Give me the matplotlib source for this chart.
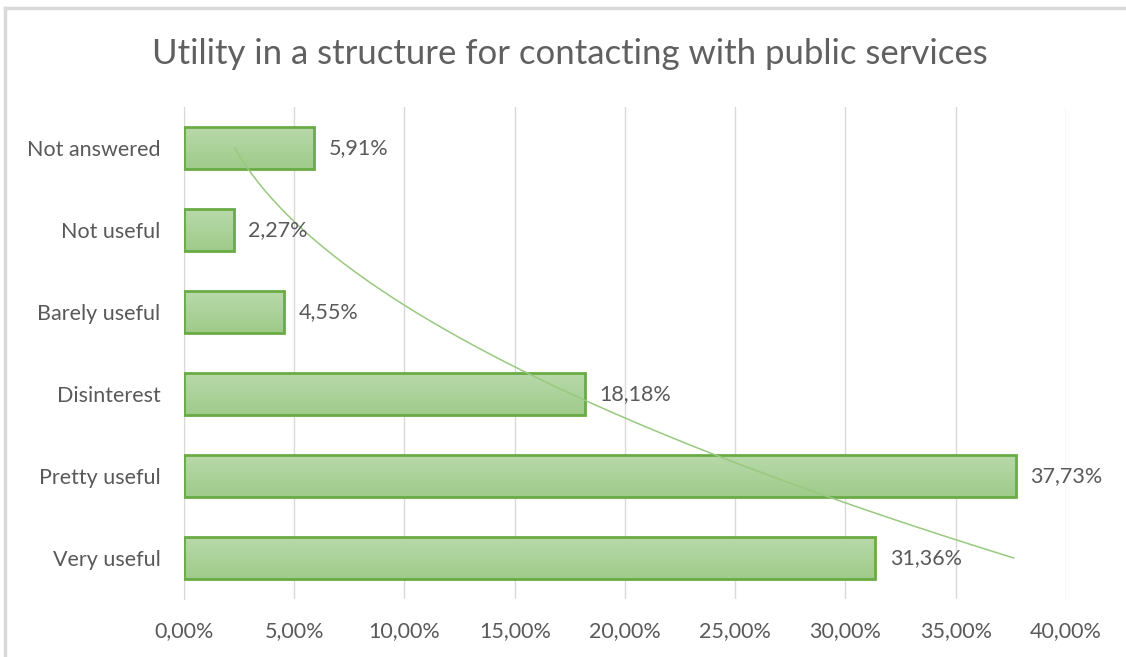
import numpy as np
import matplotlib
matplotlib.use("Agg")
import matplotlib.pyplot as plt
from matplotlib.colors import LinearSegmentedColormap
from matplotlib.lines import Line2D

# categories in Excel order (bottom to top)
categories = ["Very useful", "Pretty useful", "Disinterest",
              "Barely useful", "Not useful", "Not answered"]
values = [31.36, 37.73, 18.18, 4.55, 2.27, 5.91]
xticks = [0, 5, 10, 15, 20, 25, 30, 35, 40]

plt.rcParams["font.family"] = ["Lato", "DejaVu Sans"]
text_col = "#595959"

fig = plt.figure(figsize=(11.26, 6.57), dpi=100)
ax = fig.add_axes([0.1634, 0.0883, 0.7833, 0.7488])

# chart border (only top and left visible in the screenshot)
fig.lines.append(Line2D([0.0045, 1.0], [0.988, 0.988], transform=fig.transFigure,
                        color="#d9d9d9", linewidth=2.5))
fig.lines.append(Line2D([0.0045, 0.0045], [0.0, 0.988], transform=fig.transFigure,
                        color="#d9d9d9", linewidth=2.5))

pos = np.arange(len(categories))
h = 0.51
cmap = LinearSegmentedColormap.from_list("g", ["#9fcb8a", "#b8d9aa"])
grad = np.linspace(0, 1, 64).reshape(-1, 1)

bars = ax.barh(pos, values, height=h, color="none", edgecolor="#6aab45",
               linewidth=2, zorder=3)
for b in bars:
    x0, y0 = b.get_x(), b.get_y()
    im = ax.imshow(grad, extent=[x0, x0 + b.get_width(), y0, y0 + b.get_height()],
                   origin="lower", aspect="auto", cmap=cmap, zorder=2)
    im.set_clip_path(b)

# polynomial (order 2) trendline as in Excel
xi = pos + 1
coef = np.polyfit(xi, values, 2)
xs = np.linspace(1, len(categories), 200)
ax.plot(np.polyval(coef, xs), xs - 1, color="#98c97f", linewidth=1.1, zorder=4)

for p, v in zip(pos, values):
    ax.text(v + 0.65, p, f"{v:.2f}%".replace(".", ","), va="center", ha="left",
            fontsize=15.5, color=text_col, zorder=5)

ax.set_xlim(0, 40)
ax.set_ylim(-0.5, len(categories) - 0.5)
ax.set_xticks(xticks)
ax.set_xticklabels([f"{t:.2f}%".replace(".", ",") for t in xticks],
                   fontsize=15.5, color=text_col)
ax.set_yticks(pos)
ax.set_yticklabels(categories, fontsize=15.5, color=text_col)
ax.tick_params(axis="x", length=0, pad=16)
ax.tick_params(axis="y", length=0, pad=17)
ax.grid(axis="x", color="#d9d9d9", linewidth=1, zorder=0)
ax.set_axisbelow(True)
for s in ["top", "right", "bottom"]:
    ax.spines[s].set_visible(False)
ax.spines["left"].set_color("#d9d9d9")

fig.text(0.506, 0.918, "Utility in a structure for contacting with public services",
         ha="center", va="center", fontsize=25, color="#606060")

fig.savefig("out.png", dpi=100)
